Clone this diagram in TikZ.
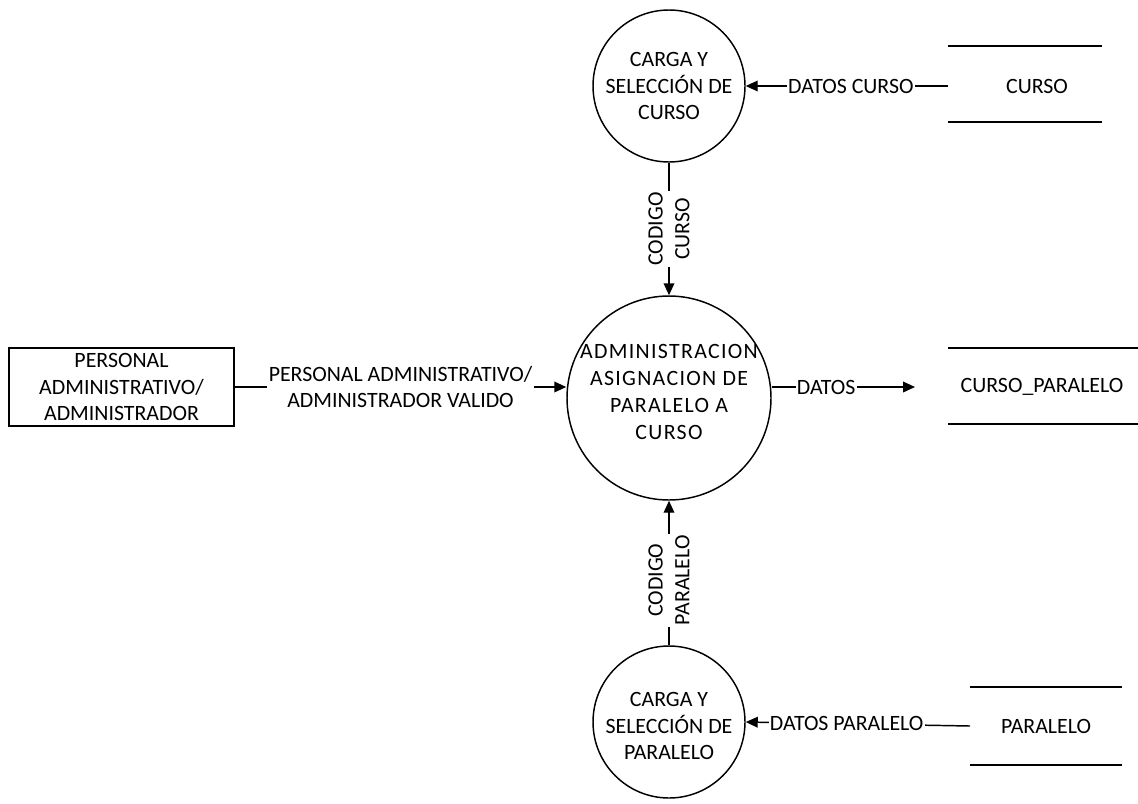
\documentclass[tikz,border=0pt]{standalone}
\usepackage{fontspec}
\setmainfont{Carlito}
\usetikzlibrary{arrows.meta}
\begin{document}
\begin{tikzpicture}[x=0.75pt,y=-0.75pt,
  every node/.style={font=\fontsize{16.4}{20.2}\selectfont},
  proc/.style={draw,circle,line width=1.1pt,inner sep=0pt},
  ent/.style={draw,rectangle,line width=1.1pt,minimum width=225*0.75pt,minimum height=78*0.75pt,align=center,inner sep=0pt},
  txt/.style={align=center,inner sep=0pt},
  storeline/.style={line width=1.1pt},
  flow/.style={line width=1.1pt,-{Triangle[length=9pt,width=8pt]}},
  lbl/.style={fill=white,align=center,inner sep=1pt}]
\useasboundingbox (0,0) rectangle (1138,803);
% processes
\node[proc,minimum size=152*0.75pt] (p1) at (669,86) {};
\node[txt] (p1t) at (669,86) {CARGA Y\\SELECCIÓN DE\\CURSO};
\node[proc,minimum size=204*0.75pt] (p0) at (669,398) {};
\node[txt,font=\fontsize{16.4}{20.2}\selectfont\addfontfeatures{LetterSpace=6}] (p0t) at (669,392) {ADMINISTRACION\\ASIGNACION DE\\PARALELO A\\CURSO};
\node[proc,minimum size=152*0.75pt] (p2) at (669,722) {};
\node[txt] (p2t) at (669,726) {CARGA Y\\SELECCIÓN DE\\PARALELO};
% external entity
\node[ent] (pa) at (121.5,387) {PERSONAL\\ADMINISTRATIVO/\\ADMINISTRADOR};
% data stores
\draw[storeline] (948,46) -- (1102,46);
\draw[storeline] (948,122) -- (1102,122);
\node[txt] (sc) at (1037,86) {CURSO};
\coordinate (scL) at (948,86);
\draw[storeline] (948,348) -- (1138,348);
\draw[storeline] (948,424) -- (1138,424);
\node[txt] (scp) at (1042,387) {CURSO\_PARALELO};
\coordinate (scpL) at (915,387);
\draw[storeline] (970,687) -- (1122,687);
\draw[storeline] (970,765) -- (1122,765);
\node[txt] (sp) at (1046,726) {PARALELO};
\coordinate (spL) at (970,726);
% flows
\draw[flow] (scL) -- node[lbl,pos=0.48] {DATOS CURSO} (p1.east);
\draw[flow] (p1.south) -- node[lbl,rotate=90] {CODIGO\\CURSO} (p0.north);
\draw[flow] (pa.east) -- node[lbl] {PERSONAL ADMINISTRATIVO/\\ADMINISTRADOR VALIDO} (p0.west |- pa.east);
\draw[flow] (p0.east |- pa.east) -- node[lbl,pos=0.38] {DATOS} (scpL);
\draw[flow] (p2.north) -- node[lbl,rotate=90,pos=0.45] {CODIGO\\PARALELO} (p0.south);
\draw[flow] (spL) -- node[lbl,pos=0.55] {DATOS PARALELO} (p2.east);
\end{tikzpicture}
\end{document}
